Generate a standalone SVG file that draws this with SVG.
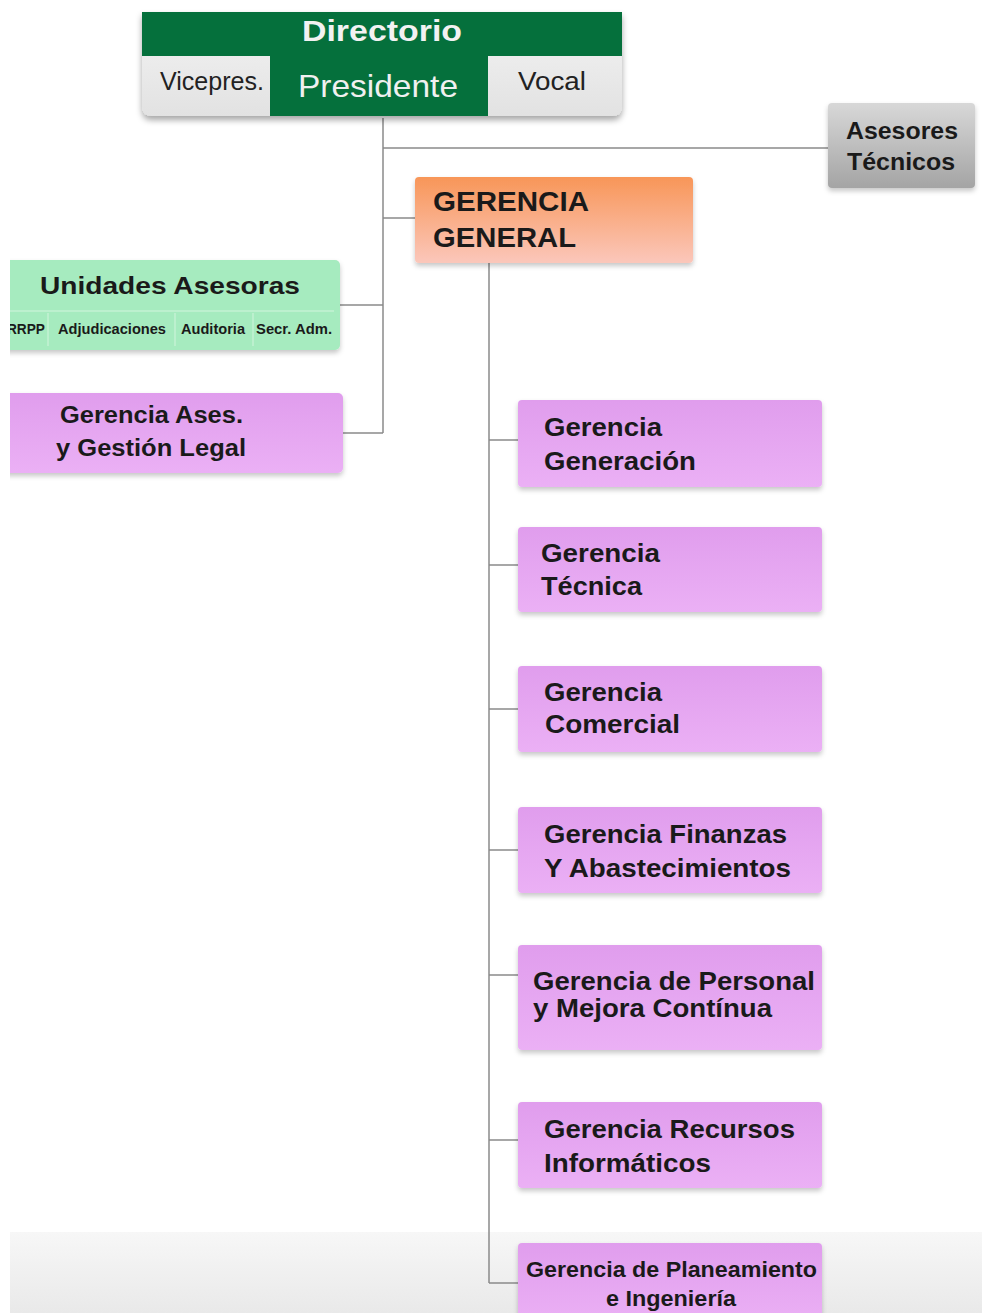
<svg xmlns="http://www.w3.org/2000/svg" width="982" height="1313" viewBox="0 0 982 1313">
<defs>
<style>
.t{font-family:"Liberation Sans",Arial,sans-serif;font-weight:bold;fill:#1a1a1a}
.r{font-family:"Liberation Sans",Arial,sans-serif;fill:#222}
.c{font-family:"Liberation Sans Narrow","Liberation Sans",Arial,sans-serif;font-weight:bold;fill:#1a1a1a}
.ln{stroke:#8a8a8a;stroke-width:1.5;fill:none}
.pu{fill:url(#gp)}
</style>
<linearGradient id="gp" x1="0" y1="0" x2="0" y2="1"><stop offset="0" stop-color="#e09ded"/><stop offset="1" stop-color="#ebb0f5"/></linearGradient>
<linearGradient id="go" x1="0" y1="0" x2="0" y2="1"><stop offset="0" stop-color="#f89658"/><stop offset="1" stop-color="#fbc7bb"/></linearGradient>
<linearGradient id="gg" x1="0" y1="0" x2="0" y2="1"><stop offset="0" stop-color="#d8d8d8"/><stop offset="1" stop-color="#a4a4a4"/></linearGradient>
<linearGradient id="gw" x1="0" y1="0" x2="0" y2="1"><stop offset="0" stop-color="#f4f4f4"/><stop offset="1" stop-color="#e2e2e2"/></linearGradient>
<linearGradient id="gb" x1="0" y1="0" x2="0" y2="1"><stop offset="0" stop-color="#f7f7f7"/><stop offset="1" stop-color="#e9e9e9"/></linearGradient>
<filter id="sh" x="-10%" y="-10%" width="120%" height="140%"><feDropShadow dx="0" dy="4" stdDeviation="3" flood-color="#000" flood-opacity="0.35"/></filter>
<filter id="sh2" x="-10%" y="-10%" width="120%" height="140%"><feDropShadow dx="0" dy="3" stdDeviation="2.5" flood-color="#000" flood-opacity="0.22"/></filter>
<clipPath id="cl"><rect x="10" y="0" width="972" height="1313"/></clipPath>
</defs>
<rect width="982" height="1313" fill="#fff"/>
<rect x="10" y="1232" width="972" height="81" fill="url(#gb)"/>
<g id="connectors">
<path class="ln" d="M383 118 V433 M383 148 H828 M383 218 H415 M340 305 H383 M343 433 H383"/>
<path class="ln" d="M489 263 V1283 M489 440 H518 M489 565 H518 M489 709 H518 M489 850 H518 M489 975 H518 M489 1140 H518 M489 1283 H518"/>
</g>
<g id="directorio">
<path d="M142 12 H622 V106 Q622 116 612 116 H152 Q142 116 142 106 Z" fill="url(#gw)" filter="url(#sh)"/>
<rect x="142" y="12" width="480" height="44" fill="#05703c"/>
<rect x="270" y="56" width="218" height="60" fill="#05703c"/>
<text class="t" x="302" y="41" font-size="30" style="fill:#f2f2f2" textLength="160" lengthAdjust="spacingAndGlyphs">Directorio</text>
<text class="r" x="298" y="97" font-size="32" style="fill:#f0f0f0" textLength="160" lengthAdjust="spacingAndGlyphs">Presidente</text>
<text class="r" x="160" y="90" font-size="25" textLength="104" lengthAdjust="spacingAndGlyphs">Vicepres.</text>
<text class="r" x="518" y="90" font-size="25" textLength="68" lengthAdjust="spacingAndGlyphs">Vocal</text>
</g>
<g id="asesores-tecnicos">
<rect x="828" y="103" width="147" height="85" rx="4" fill="url(#gg)" filter="url(#sh2)"/>
<text class="t" x="846" y="139" font-size="23" textLength="112" lengthAdjust="spacingAndGlyphs">Asesores</text>
<text class="t" x="847" y="170" font-size="23" textLength="108" lengthAdjust="spacingAndGlyphs">Técnicos</text>
</g>
<g id="gerencia-general">
<rect x="415" y="177" width="278" height="86" rx="4" fill="url(#go)" filter="url(#sh2)"/>
<text class="t" x="433" y="211" font-size="27" textLength="156" lengthAdjust="spacingAndGlyphs">GERENCIA</text>
<text class="t" x="433" y="247" font-size="27" textLength="143" lengthAdjust="spacingAndGlyphs">GENERAL</text>
</g>
<g id="unidades-asesoras" clip-path="url(#cl)">
<rect x="-10" y="260" width="350" height="90" rx="5" fill="#a6ebbf" filter="url(#sh2)"/>
<path d="M10 311 H334 M48 313 V346 M175 313 V346 M253 313 V346" stroke="#c4f2d4" stroke-width="1.5" fill="none"/>
<text class="t" x="40" y="294" font-size="24" textLength="260" lengthAdjust="spacingAndGlyphs">Unidades Asesoras</text>
<text class="c" x="26" y="334" font-size="15" text-anchor="middle" textLength="38" lengthAdjust="spacingAndGlyphs">RRPP</text>
<text class="c" x="112" y="334" font-size="15" text-anchor="middle" textLength="108" lengthAdjust="spacingAndGlyphs">Adjudicaciones</text>
<text class="c" x="213" y="334" font-size="15" text-anchor="middle" textLength="64" lengthAdjust="spacingAndGlyphs">Auditoria</text>
<text class="c" x="294" y="334" font-size="15" text-anchor="middle" textLength="76" lengthAdjust="spacingAndGlyphs">Secr. Adm.</text>
</g>
<g id="gerencia-ases-legal" clip-path="url(#cl)">
<rect x="-10" y="393" width="353" height="80" rx="5" class="pu" filter="url(#sh2)"/>
<text class="t" x="60" y="423" font-size="23" textLength="183" lengthAdjust="spacingAndGlyphs">Gerencia Ases.</text>
<text class="t" x="56" y="456" font-size="23" textLength="190" lengthAdjust="spacingAndGlyphs">y Gestión Legal</text>
</g>
<g id="gerencia-generacion">
<rect x="518" y="400" width="304" height="87" rx="4" class="pu" filter="url(#sh2)"/>
<text class="t" x="544" y="436" font-size="25" textLength="118" lengthAdjust="spacingAndGlyphs">Gerencia</text>
<text class="t" x="544" y="470" font-size="25" textLength="152" lengthAdjust="spacingAndGlyphs">Generación</text>
</g>
<g id="gerencia-tecnica">
<rect x="518" y="527" width="304" height="85" rx="4" class="pu" filter="url(#sh2)"/>
<text class="t" x="541" y="562" font-size="25" textLength="119" lengthAdjust="spacingAndGlyphs">Gerencia</text>
<text class="t" x="541" y="595" font-size="25" textLength="101" lengthAdjust="spacingAndGlyphs">Técnica</text>
</g>
<g id="gerencia-comercial">
<rect x="518" y="666" width="304" height="86" rx="4" class="pu" filter="url(#sh2)"/>
<text class="t" x="544" y="701" font-size="25" textLength="118" lengthAdjust="spacingAndGlyphs">Gerencia</text>
<text class="t" x="545" y="733" font-size="25" textLength="135" lengthAdjust="spacingAndGlyphs">Comercial</text>
</g>
<g id="gerencia-finanzas">
<rect x="518" y="807" width="304" height="86" rx="4" class="pu" filter="url(#sh2)"/>
<text class="t" x="544" y="843" font-size="25" textLength="243" lengthAdjust="spacingAndGlyphs">Gerencia Finanzas</text>
<text class="t" x="544" y="877" font-size="25" textLength="247" lengthAdjust="spacingAndGlyphs">Y Abastecimientos</text>
</g>
<g id="gerencia-personal">
<rect x="518" y="945" width="304" height="105" rx="4" class="pu" filter="url(#sh2)"/>
<text class="t" x="533" y="990" font-size="25" textLength="282" lengthAdjust="spacingAndGlyphs">Gerencia de Personal</text>
<text class="t" x="533" y="1017" font-size="25" textLength="239" lengthAdjust="spacingAndGlyphs">y Mejora Contínua</text>
</g>
<g id="gerencia-informaticos">
<rect x="518" y="1102" width="304" height="86" rx="4" class="pu" filter="url(#sh2)"/>
<text class="t" x="544" y="1138" font-size="25" textLength="251" lengthAdjust="spacingAndGlyphs">Gerencia Recursos</text>
<text class="t" x="544" y="1172" font-size="25" textLength="167" lengthAdjust="spacingAndGlyphs">Informáticos</text>
</g>
<g id="gerencia-planeamiento">
<rect x="518" y="1243" width="304" height="80" rx="4" class="pu" filter="url(#sh2)"/>
<text class="c" x="526" y="1277" font-size="22" textLength="291" lengthAdjust="spacingAndGlyphs">Gerencia de Planeamiento</text>
<text class="c" x="606" y="1306" font-size="22" textLength="130" lengthAdjust="spacingAndGlyphs">e Ingeniería</text>
</g>
</svg>
